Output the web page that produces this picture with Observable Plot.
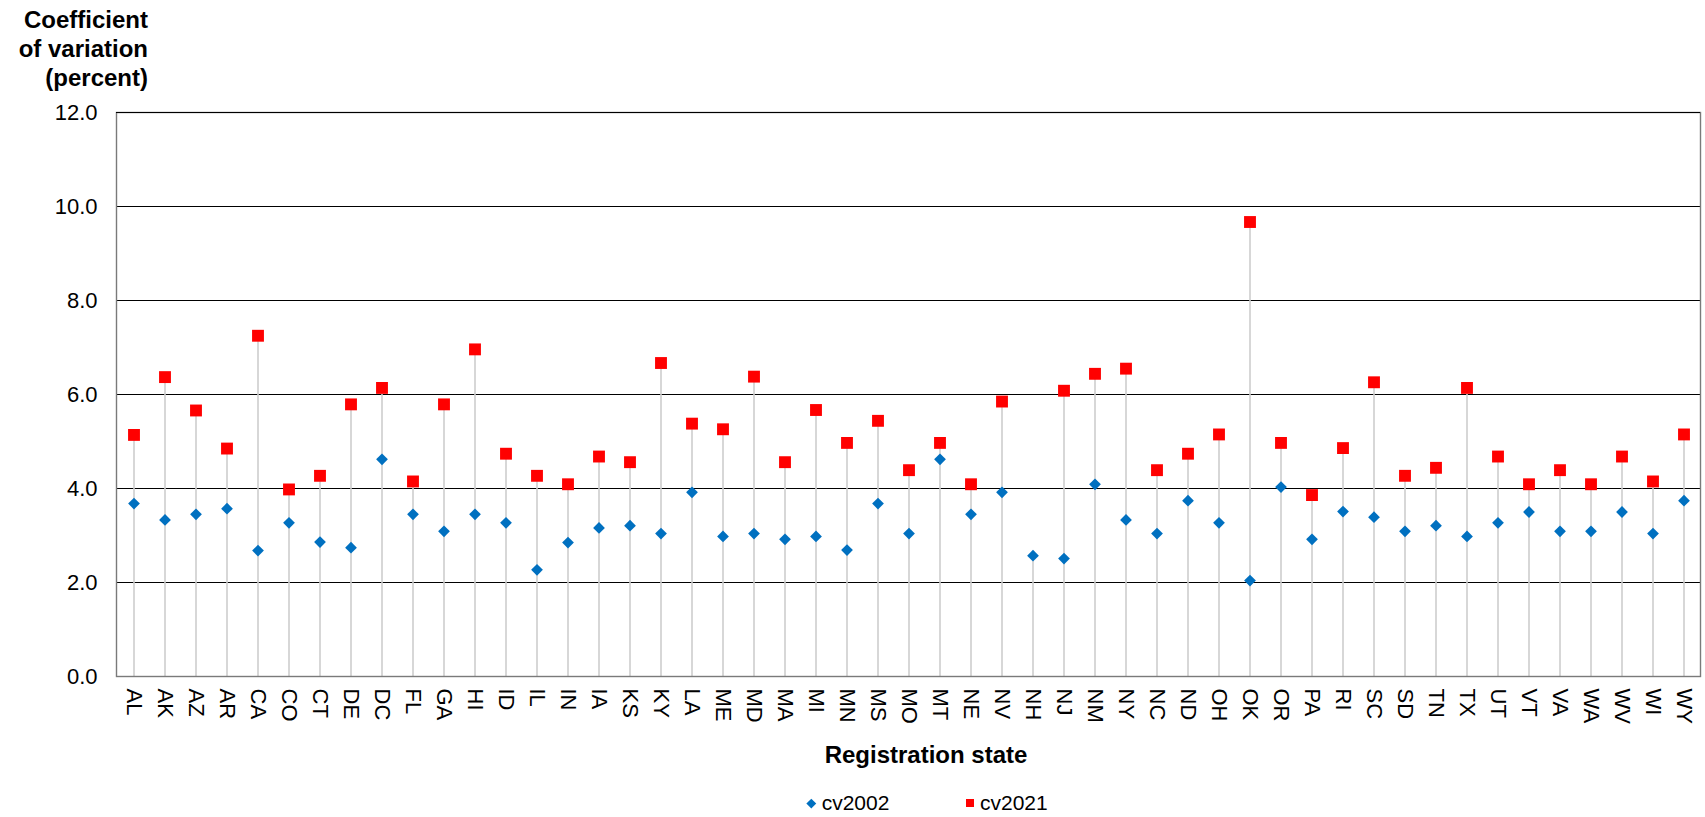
<!DOCTYPE html>
<html><head><meta charset="utf-8">
<script src="https://cdn.jsdelivr.net/npm/d3@7"></script>
<script src="https://cdn.jsdelivr.net/npm/@observablehq/plot@0.6"></script>
<style>
body{margin:0;background:#fff;font-family:"Liberation Sans",Arial,sans-serif;color:#000;}
#wrap{position:relative;width:1705px;height:817px;overflow:hidden;}
#title{position:absolute;right:1557px;top:4.5px;text-align:right;font-weight:bold;font-size:24px;line-height:29px;white-space:nowrap;}
#chart{position:absolute;left:0;top:100px;}
#xlabel{position:absolute;left:0;top:740px;width:1852px;text-align:center;font-weight:bold;font-size:24px;line-height:30px;white-space:nowrap;}
#legend{position:absolute;left:0;top:790px;width:1705px;height:26px;font-size:21px;line-height:26px;}
.item{position:absolute;top:0;height:26px;display:flex;align-items:center;}
.dia{display:inline-block;width:6.6px;height:6.6px;background:#0070C0;transform:rotate(45deg);margin-right:6.9px;}
.sq{display:inline-block;width:8.3px;height:8.3px;background:#ff0000;margin-right:6px;}
</style>
</head><body>
<div id="wrap">
  <div id="title">Coefficient<br>of variation<br>(percent)</div>
  <div id="chart"></div>
  <div id="xlabel">Registration state</div>
  <div id="legend">
    <div class="item" style="left:808.2px"><span class="dia"></span><span>cv2002</span></div>
    <div class="item" style="left:965.7px"><span class="sq"></span><span>cv2021</span></div>
  </div>
</div>
<script>
const states = ["AL","AK","AZ","AR","CA","CO","CT","DE","DC","FL","GA","HI","ID","IL","IN","IA","KS","KY","LA","ME","MD","MA","MI","MN","MS","MO","MT","NE","NV","NH","NJ","NM","NY","NC","ND","OH","OK","OR","PA","RI","SC","SD","TN","TX","UT","VT","VA","WA","WV","WI","WY"];
const cv2002 = [3.68,3.33,3.45,3.57,2.68,3.27,2.86,2.74,4.62,3.45,3.09,3.45,3.27,2.27,2.85,3.16,3.21,3.04,3.92,2.98,3.04,2.92,2.98,2.69,3.68,3.04,4.62,3.45,3.92,2.57,2.51,4.09,3.33,3.04,3.74,3.27,2.04,4.03,2.92,3.51,3.39,3.09,3.21,2.98,3.27,3.50,3.09,3.09,3.50,3.04,3.74];
const cv2021 = [5.14,6.37,5.66,4.85,7.25,3.98,4.27,5.79,6.14,4.15,5.79,6.96,4.74,4.27,4.09,4.68,4.56,6.67,5.38,5.26,6.38,4.56,5.67,4.97,5.44,4.39,4.97,4.09,5.85,null,6.08,6.44,6.55,4.39,4.74,5.15,9.67,4.97,3.86,4.86,6.26,4.27,4.44,6.14,4.68,4.09,4.39,4.09,4.68,4.15,5.15];
const yTicks = [0,2,4,6,8,10,12];

const data = states.map((s,i)=>({state:s, cv2002:cv2002[i], cv2021:cv2021[i]}));

const chart = Plot.plot({
  width:1705, height:620,
  marginLeft:116, marginRight:5, marginTop:12, marginBottom:44,
  style:{fontFamily:"'Liberation Sans', Arial, sans-serif", fontSize:"22px", color:"#000", background:"#fff", overflow:"visible"},
  x:{type:"band", domain:states, padding:0, label:null},
  y:{domain:[0,12], label:null},
  marks:[
    Plot.ruleY(yTicks.slice(1), {stroke:"#000", strokeWidth:1}),
    Plot.ruleX(data, {x:"state", y1:0, y2:d=>Math.max(d.cv2002, d.cv2021 ?? 0), stroke:"#cdcdcd", strokeWidth:1.6}),
    Plot.frame({stroke:"#7a7a7a", strokeWidth:1.4}),
    Plot.ruleY([12], {stroke:"#000"}),
    Plot.axisY(yTicks, {tickSize:0, tickPadding:19, tickFormat:".1f", fontSize:22, label:null}),
    Plot.axisX({tickSize:0, tickPadding:12, tickRotate:90, fontSize:22, label:null}),
    Plot.dot(data, {x:"state", y:"cv2002", symbol:"diamond2", r:5.3, fill:"#0070C0", stroke:null}),
    Plot.dot(data.filter(d=>d.cv2021 != null), {x:"state", y:"cv2021", symbol:"square", r:6.7, fill:"#ff0000", stroke:null})
  ]
});
document.getElementById("chart").appendChild(chart);
</script>
</body></html>
